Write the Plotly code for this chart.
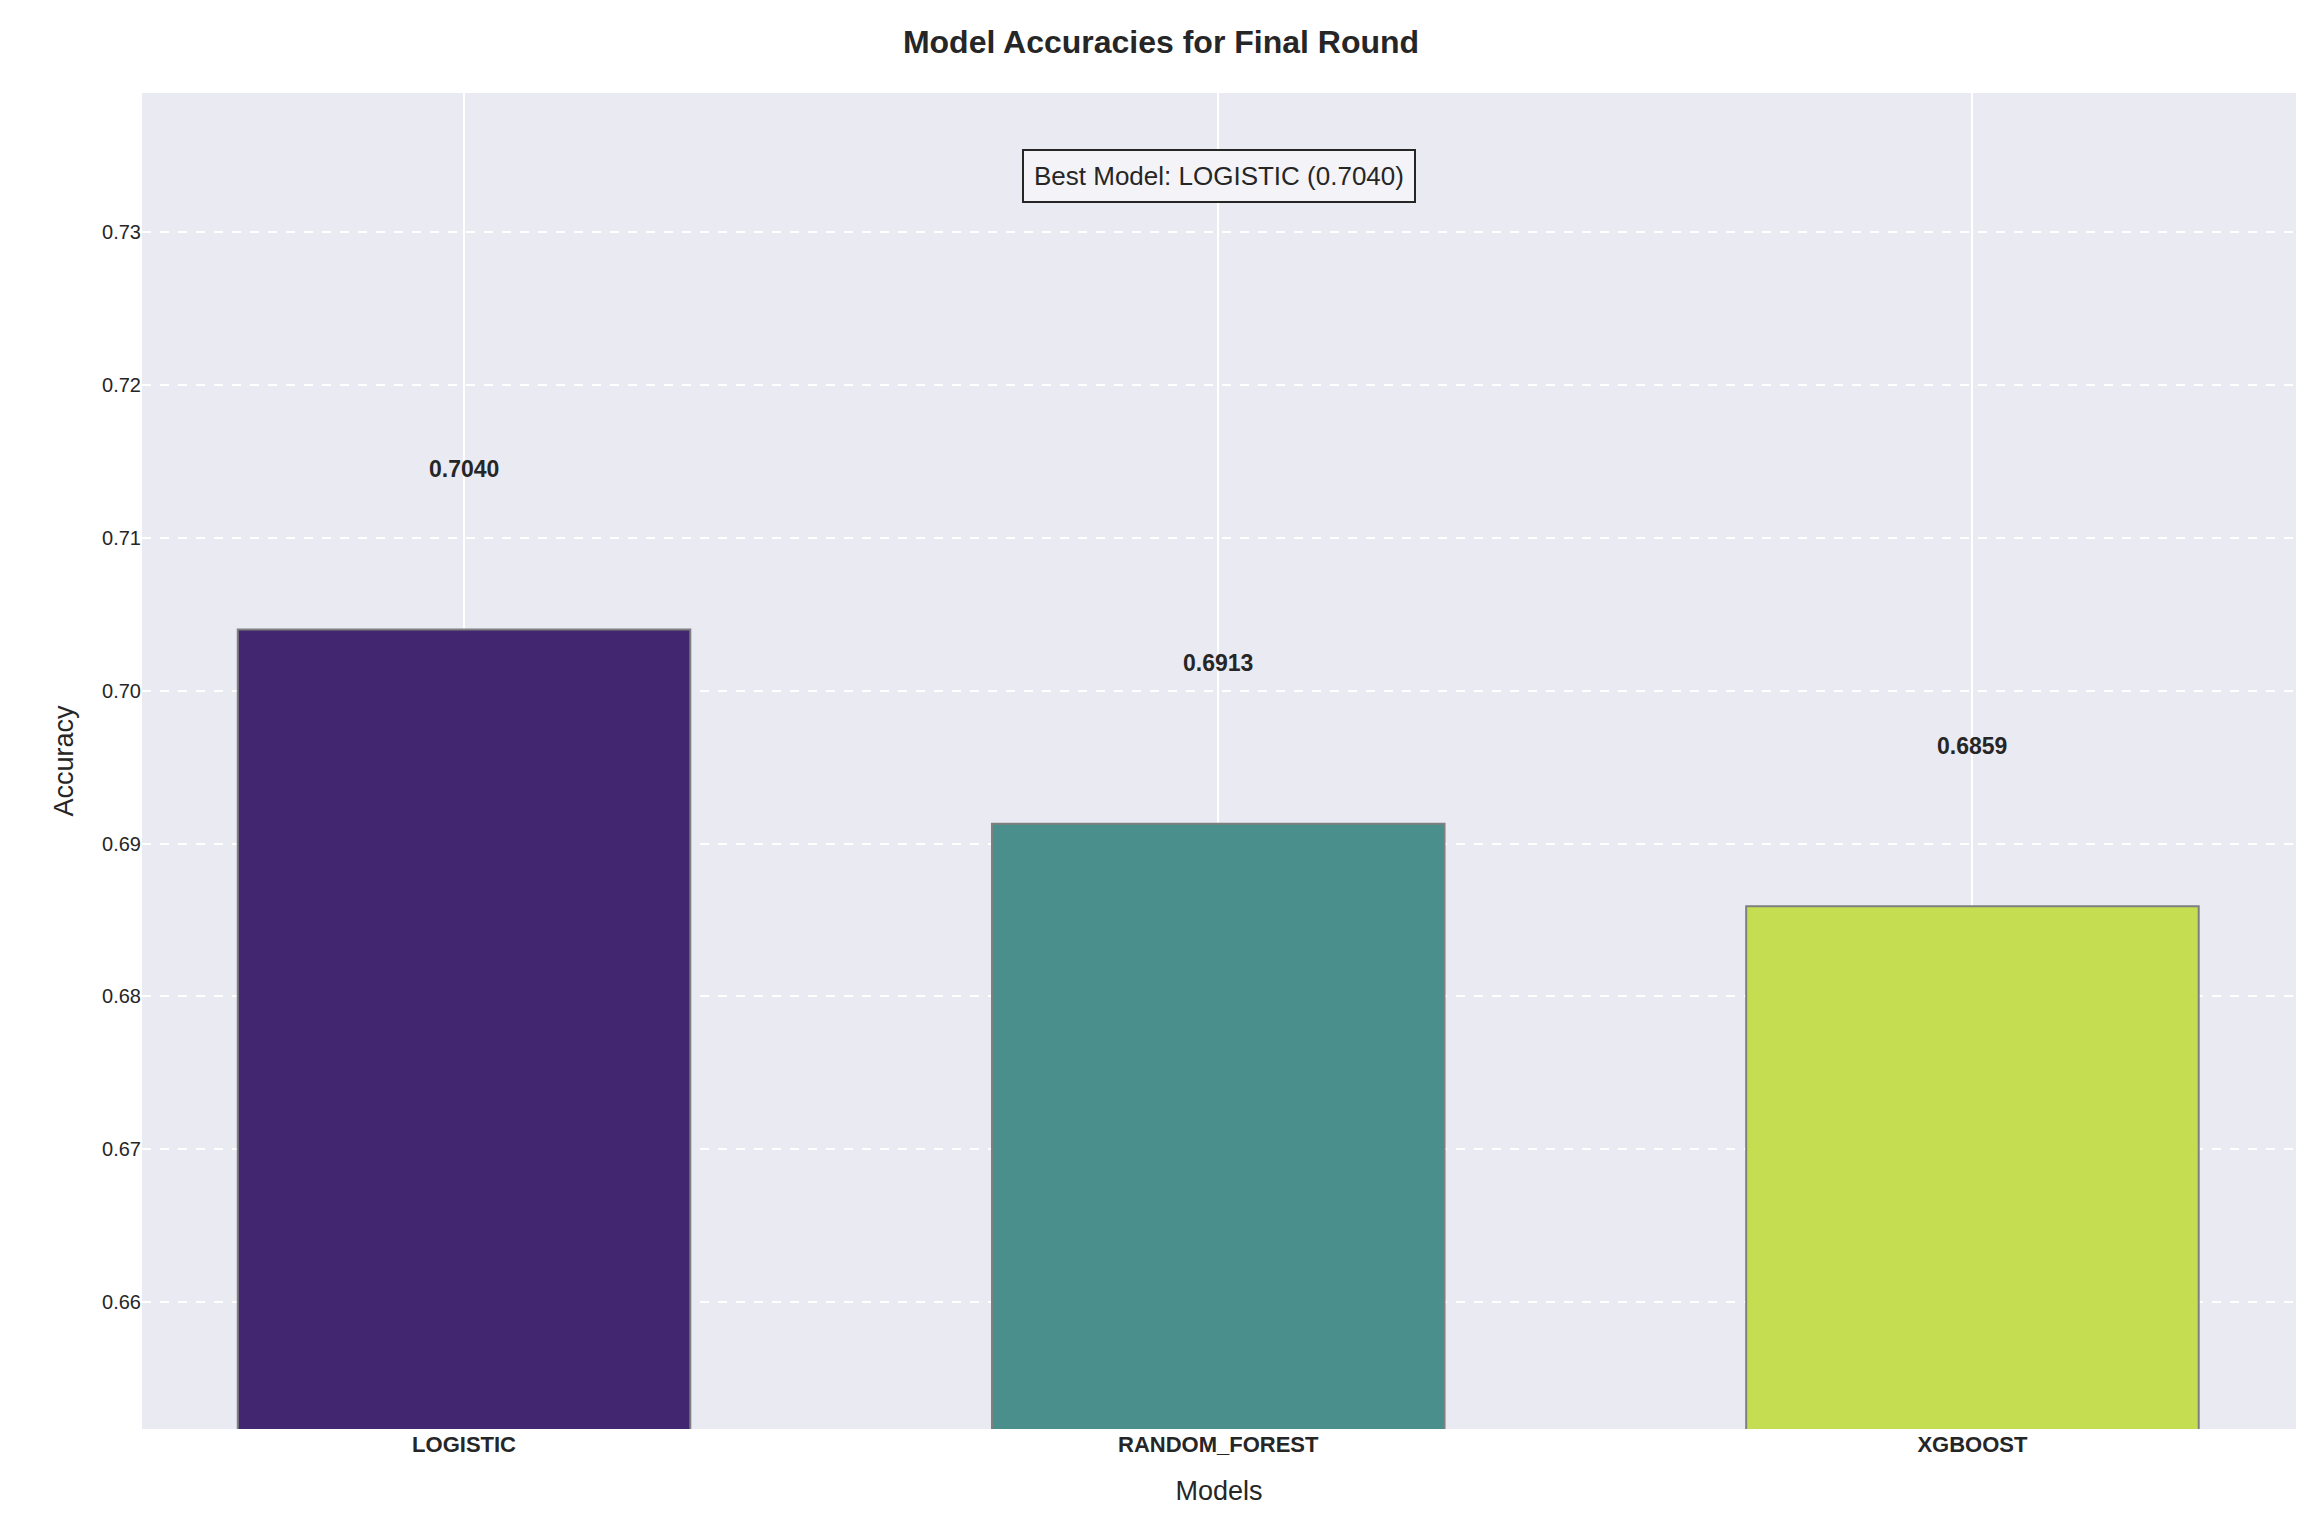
import plotly.graph_objects as go

models = ["LOGISTIC", "RANDOM_FOREST", "XGBOOST"]
accuracies = [0.7040, 0.6913, 0.6859]
colors = ["#42266f", "#4a8f8b", "#c5de51"]
yticks = [0.66, 0.67, 0.68, 0.69, 0.70, 0.71, 0.72, 0.73]

best_i = accuracies.index(max(accuracies))
font = "Liberation Sans, Arial, sans-serif"

fig = go.Figure()
fig.add_trace(go.Bar(x=models, y=accuracies, width=0.6, marker=dict(color=colors, line=dict(color="#7f7f7f", width=2)), showlegend=False))
for m, a in zip(models, accuracies):
    fig.add_annotation(x=m, y=a + 0.0105, text=f"<b>{a:.4f}</b>", showarrow=False, font=dict(size=23, color="#262626", family=font))
fig.add_annotation(x=0.5, xref="paper", y=0.7337, yref="y",
                   text=f"Best Model: {models[best_i]} ({accuracies[best_i]:.4f})", showarrow=False,
                   font=dict(size=26, color="#262626", family=font), bgcolor="#f4f4f8",
                   bordercolor="#262626", borderwidth=2, borderpad=10)

fig.update_layout(
    width=2306, height=1530, paper_bgcolor="white", plot_bgcolor="#eaeaf2",
    margin=dict(l=134, r=18, t=85, b=109),
    title=dict(text="<b>Model Accuracies for Final Round</b>", x=0.5, xanchor="center", y=0.985, yanchor="top",
               font=dict(size=32, color="#262626", family=font)),
    font=dict(family=font, color="#262626"),
    xaxis=dict(title=dict(text="Models", font=dict(size=27), standoff=25), range=[-0.427, 2.429],
               tickfont=dict(size=22), showgrid=True, gridcolor="white", gridwidth=2,
               tickmode="array", tickvals=models, ticktext=[f"<b>{m}</b>" for m in models]),
    yaxis=dict(title=dict(text="Accuracy", font=dict(size=27), standoff=20), range=[0.6517, 0.7391],
               tickvals=yticks, ticktext=[f"{t:.2f}" for t in yticks], tickfont=dict(size=20),
               showgrid=True, gridcolor="white", gridwidth=1.5, griddash="dash", zeroline=False),
)
fig.write_html("out.html")
